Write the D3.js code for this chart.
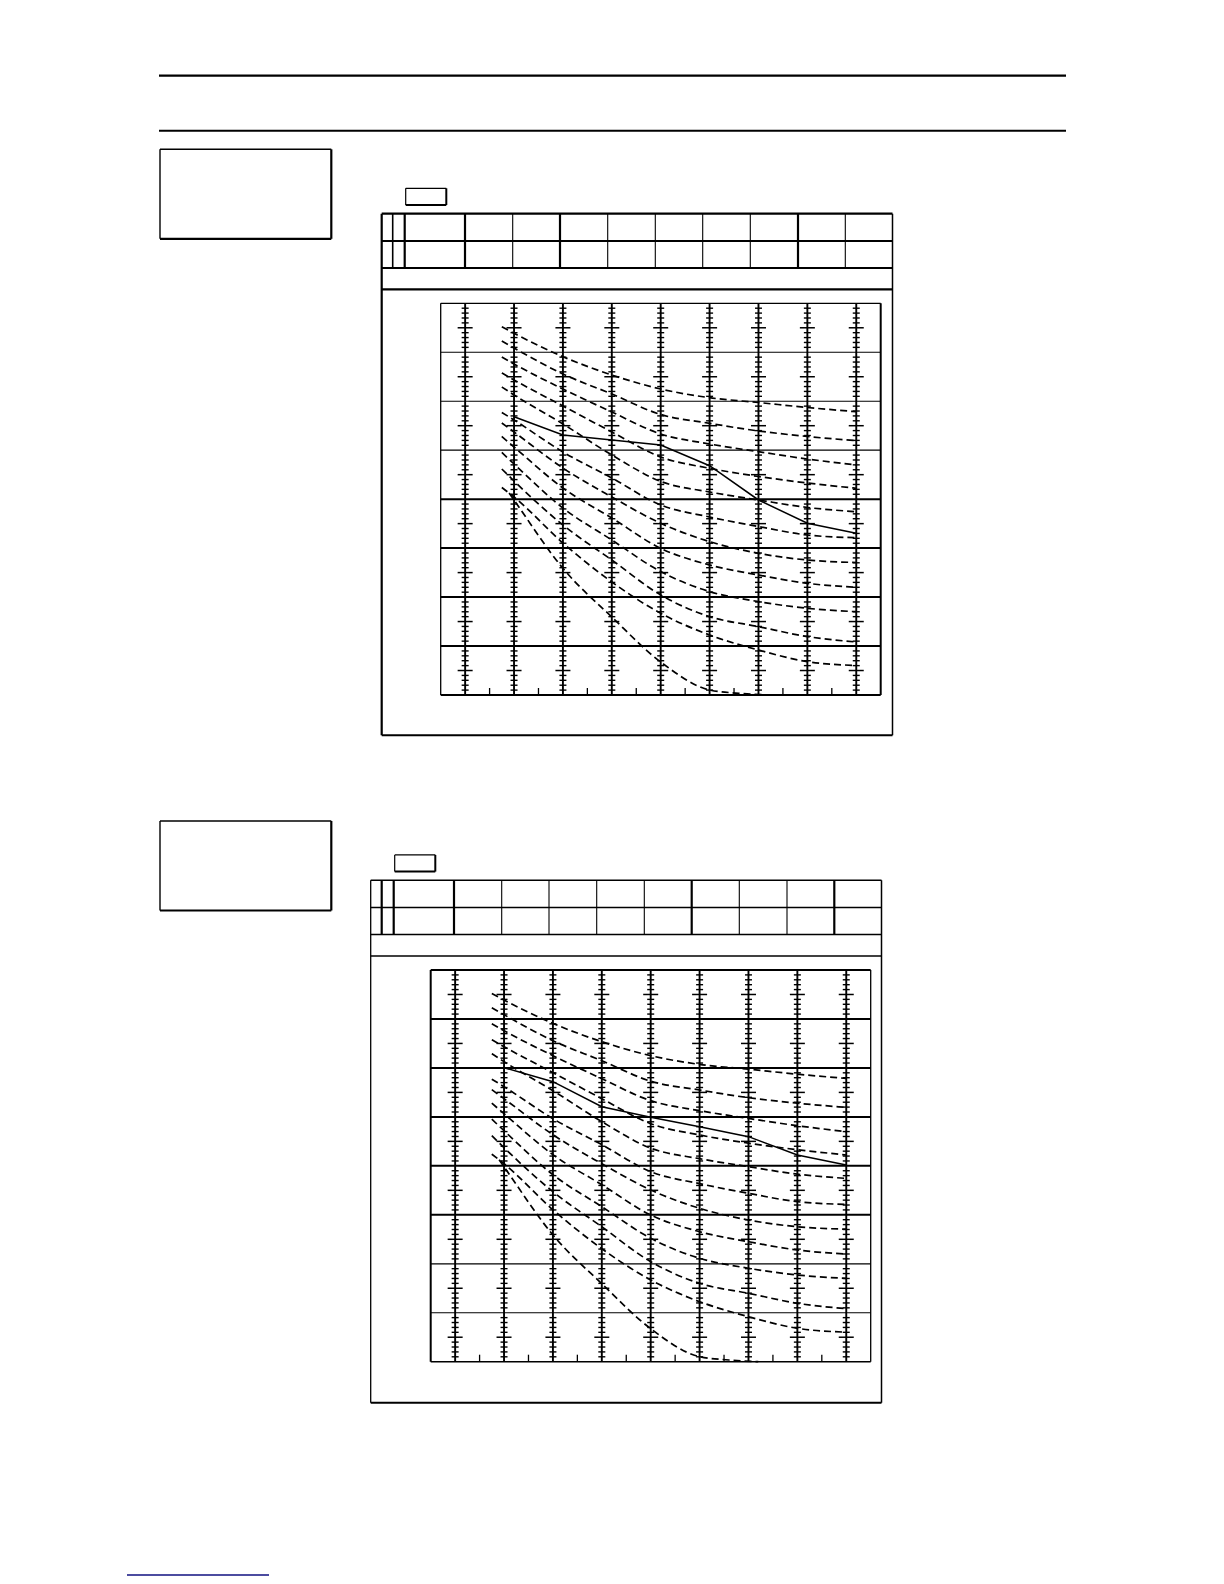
<!DOCTYPE html>
<html><head><meta charset="utf-8">
<script src="https://cdn.jsdelivr.net/npm/d3@7"></script>
<style>body{margin:0;background:#fff}svg{display:block}</style>
</head><body>
<svg id="page" width="1224" height="1584"></svg>
<script>
// ---------- DATA ----------
const gridColumns = [0, 1, 2, 3, 4, 5, 6, 7, 8];
const rowLines = [10, 20, 30, 40, 50, 60, 70];
const colBoundaries = [0.5, 1.5, 2.5, 3.5, 4.5, 5.5, 6.5, 7.5];
const curveX = [0.75, 1, 2, 3, 4, 5, 6, 7, 8];
const dashA = [75.22, 73.88, 69.10, 65.36, 62.50, 60.72, 59.74, 58.72, 57.86];
const dashB = [72.30, 70.87, 65.56, 61.48, 57.29, 55.49, 53.92, 52.80, 51.94];
const dashC = [69.04, 67.61, 62.50, 57.80, 53.31, 51.27, 49.69, 48.20, 46.98];
const dashD = [65.77, 64.34, 59.03, 53.72, 48.61, 46.30, 44.63, 43.30, 42.22];
const dashE = [62.91, 61.28, 55.35, 49.02, 43.61, 41.46, 39.83, 38.30, 37.44];
const dashF = [57.70, 56.17, 49.63, 44.32, 38.81, 36.36, 34.40, 32.68, 32.13];
const dashG = [55.56, 53.72, 46.36, 40.44, 35.07, 31.33, 28.94, 27.57, 27.06];
const dashH = [52.80, 50.65, 42.28, 36.15, 29.96, 26.55, 24.51, 22.81, 22.00];
const dashI = [49.53, 47.18, 38.19, 31.66, 25.20, 21.12, 19.08, 17.71, 17.01];
const dashJ = [46.16, 43.71, 34.72, 27.57, 20.43, 16.01, 13.97, 11.93, 10.83];
const dashK = [42.38, 40.44, 31.05, 23.08, 16.69, 12.26, 9.19, 6.82, 6.03];
const dashLX = [0.9, 1, 2, 3, 4, 5, 5.6, 6.2];
const dashL = [41.26, 39.83, 25.88, 15.93, 6.74, 1.02, 0.35, 0];
const solidX = [1, 2, 3, 4, 5, 6, 7, 8];
const solidUpper = [56.84, 53.11, 52.08, 51.06, 46.83, 39.83, 35.07, 33.03];
const solidLower = [60.05, 57.19, 52.08, 49.92, 48.00, 45.96, 42.22, 40.18];

const dashFamily = [dashA, dashB, dashC, dashD, dashE, dashF, dashG, dashH, dashI, dashJ, dashK]
  .map(vals => curveX.map((x, i) => [x, vals[i]]));
dashFamily.push(dashLX.map((x, i) => [x, dashL[i]]));

// ---------- LAYOUT ----------
const svg = d3.select('#page');
function line(g, x1, y1, x2, y2, w, color) {
  g.append('line').attr('x1', x1).attr('y1', y1).attr('x2', x2).attr('y2', y2)
    .attr('stroke', color || '#000').attr('stroke-width', w);
}
// page rules
line(svg, 159, 75.7, 1066, 75.7, 2.2);
line(svg, 159, 130.7, 1066, 130.7, 2);
// footer blue rule
line(svg, 127, 1575, 269, 1575, 1.4, '#101080');

function sideBox(y0) {
  const g = svg.append('g');
  line(g, 160, y0, 331.3, y0, 1.4);
  line(g, 160, y0, 160, y0 + 89.5, 1.4);
  line(g, 331.3, y0, 331.3, y0 + 89.5, 2.2);
  line(g, 160, y0 + 89.5, 331.3, y0 + 89.5, 2.2);
}
sideBox(149.3);
sideBox(821);

function drawChart(cfg) {
  const g = svg.append('g');
  const T = cfg.tableLeft, top = cfg.tableTop;
  const R = T + 510.8, B = top + cfg.height;
  // small box
  const sb = g.append('g');
  line(sb, T + 24, top - 25.4, T + 64.6, top - 25.4, 1.2);
  line(sb, T + 24, top - 25.4, T + 24, top - 8.7, 1.2);
  line(sb, T + 64.6, top - 25.4, T + 64.6, top - 8.7, 2);
  line(sb, T + 24, top - 8.7, T + 64.6, top - 8.7, 2);
  // frame
  line(g, T, top, T, B, cfg.leftW);
  line(g, R, top, R, B, 1.5);
  line(g, T, B, R, B, 2);
  [0, 27.3, 54.3, 75.6].forEach(dy => line(g, T, top + dy, R, top + dy, cfg.hW));
  const cols = [11, 23, 83.3, 131, 178.3, 226, 273.6, 321, 368.6, 416.3, 463.6];
  cols.forEach((dx, i) => line(g, T + dx, top, T + dx, top + 54.3, cfg.colW[i]));

  // plot
  const pl = cfg.plotLeft, pt = cfg.plotTop, pr = pl + 440, pb = pt + 391.7;
  const x = d3.scaleLinear().domain([-0.5, 8.5]).range([pl, pr]);
  const y = d3.scaleLinear().domain([0, 80]).range([pb, pt]);

  // horizontal grid lines
  g.append('g').selectAll('line').data(rowLines).join('line')
    .attr('x1', pl).attr('x2', pr).attr('y1', d => y(d)).attr('y2', d => y(d))
    .attr('stroke', '#000').attr('stroke-width', (d, i) => cfg.rowW[i]);

  // vertical grid lines with rulers
  const gv = g.append('g');
  gv.selectAll('line.v').data(gridColumns).join('line').attr('class', 'v')
    .attr('x1', d => x(d)).attr('x2', d => x(d)).attr('y1', pt).attr('y2', pb)
    .attr('stroke', '#000').attr('stroke-width', 1.9);
  const minor = d3.range(1, 80).filter(v => v % 10 !== 0);
  gridColumns.forEach(c => {
    gv.append('g').selectAll('line').data(minor).join('line')
      .attr('x1', d => x(c) - (d % 10 === 5 ? 7.5 : 3.5))
      .attr('x2', d => x(c) + (d % 10 === 5 ? 7.5 : 3.5))
      .attr('y1', d => y(d)).attr('y2', d => y(d))
      .attr('stroke', '#000').attr('stroke-width', d => d % 10 === 5 ? 1.5 : 1.4);
  });
  // bottom ticks
  g.append('g').selectAll('line').data(colBoundaries).join('line')
    .attr('x1', d => x(d)).attr('x2', d => x(d)).attr('y1', pb).attr('y2', pb - 7)
    .attr('stroke', '#000').attr('stroke-width', 1.3);

  // plot border
  line(g, pl, pt, pr, pt, cfg.border[0]);
  line(g, pr, pt, pr, pb, cfg.border[1]);
  line(g, pl, pb, pr, pb, cfg.border[2]);
  line(g, pl, pt, pl, pb, cfg.border[3]);

  // dashed curves
  const gen = d3.line().x(d => x(d[0])).y(d => y(d[1])).curve(d3.curveMonotoneX);
  g.append('g').selectAll('path').data(dashFamily).join('path')
    .attr('d', gen).attr('fill', 'none').attr('stroke', '#000')
    .attr('stroke-width', 1.7).attr('stroke-dasharray', '7,4');
  // solid curve
  const sol = solidX.map((xx, i) => [xx, cfg.solid[i]]);
  g.append('path').attr('d', d3.line().x(d => x(d[0])).y(d => y(d[1]))(sol))
    .attr('fill', 'none').attr('stroke', '#000').attr('stroke-width', 1.5);
}

drawChart({
  tableLeft: 381.7, tableTop: 213.7, height: 521.5, leftW: 2.2, hW: 2.2,
  colW: [1.6, 2.2, 2.2, 1.1, 2.2, 1.1, 1.1, 1.1, 1.1, 2.2, 1.1],
  plotLeft: 440.7, plotTop: 303.3,
  rowW: [2, 2, 2, 2, 1.2, 1.2, 1.2],
  border: [1.3, 2, 2, 1.3],
  solid: solidUpper
});
drawChart({
  tableLeft: 370.7, tableTop: 880.3, height: 522.5, leftW: 1.3, hW: 1.5,
  colW: [2.2, 2.2, 2.2, 1.1, 1.1, 1.1, 1.1, 2.2, 1.1, 1.1, 2.2],
  plotLeft: 430.7, plotTop: 970,
  rowW: [1.2, 1.2, 2, 2, 2, 2, 2],
  border: [2, 1.3, 1.6, 2],
  solid: solidLower
});
</script>
</body></html>
